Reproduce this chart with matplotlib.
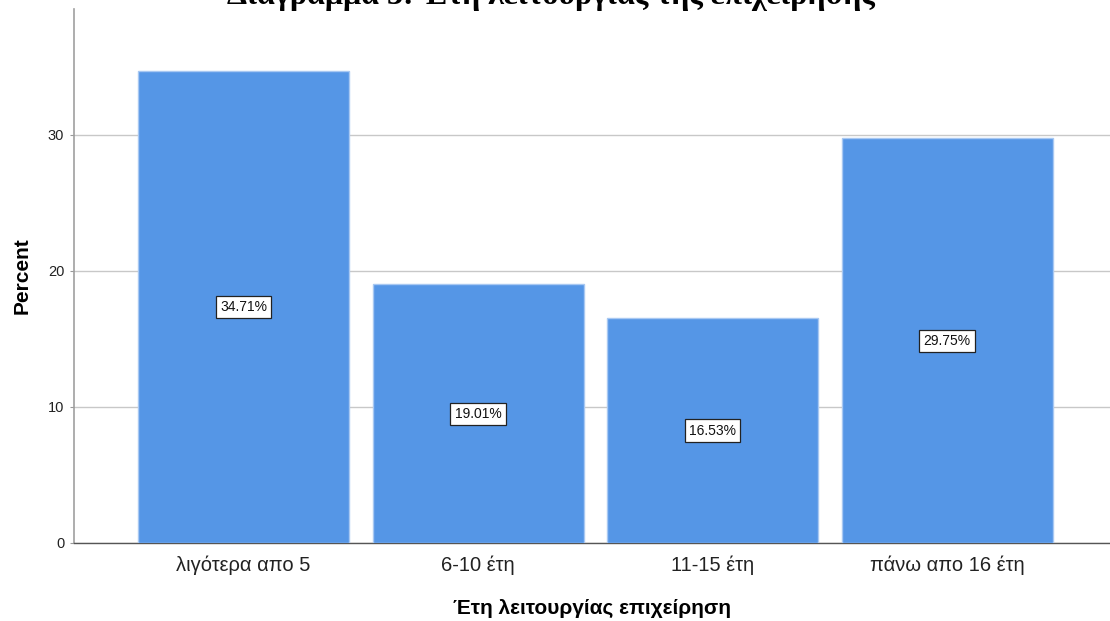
import matplotlib
matplotlib.use("Agg")
import matplotlib.pyplot as plt
import numpy as np

categories = ["λιγότερα απο 5", "6-10 έτη", "11-15 έτη", "πάνω απο 16 έτη"]
percents = [34.71, 19.01, 16.53, 29.75]
yticks = [0, 10, 20, 30]

title = "Διάγραμμα 3: Έτη λειτουργίας της επιχείρησης"
xlabel = "Έτη λειτουργίας επιχείρηση"
ylabel = "Percent"

bar_color = "#5596E6"
edge_color = "#A8C8F2"

plt.rcParams["font.family"] = ["Liberation Sans", "DejaVu Sans"]

fig = plt.figure(figsize=(11.10, 6.21), dpi=100)
W, H = 1110, 621
left_px, right_px, top_px, bottom_px = 74, 1110, 9, 543
ax = fig.add_axes([left_px / W, 1 - bottom_px / H,
                   (right_px - left_px) / W, (bottom_px - top_px) / H])

x = np.arange(len(categories))
ax.bar(x, percents, width=0.9, color=bar_color, edgecolor=edge_color,
       linewidth=1.0, zorder=3)

ax.set_xlim(-0.723, 3.695)
ax.set_ylim(0, (bottom_px - top_px) / 13.6)
ax.set_yticks(yticks)
ax.set_yticklabels([str(t) for t in yticks], fontsize=10.5, color="#222222")
ax.set_xticks(x)
ax.set_xticklabels(categories, fontsize=14.5, color="#222222")
ax.tick_params(axis="x", length=0, pad=9)
ax.tick_params(axis="y", length=3, width=0.8, color="#999999", pad=4)

ax.grid(axis="y", color="#C8C8C8", linewidth=1.0, zorder=0)
ax.set_axisbelow(True)

for side in ("top", "right"):
    ax.spines[side].set_visible(False)
ax.spines["left"].set_color("#A0A0A0")
ax.spines["left"].set_linewidth(1.2)
ax.spines["bottom"].set_color("#555555")
ax.spines["bottom"].set_linewidth(1.0)

for xi, v in zip(x, percents):
    ax.text(xi, v / 2, f"{v:.2f}%", ha="center", va="center", fontsize=10,
            color="#111111", zorder=5,
            bbox=dict(boxstyle="square,pad=0.3", facecolor="white",
                      edgecolor="#222222", linewidth=0.9))

ax.set_xlabel(xlabel, fontsize=15, fontweight="bold", labelpad=17)
ax.set_ylabel(ylabel, fontsize=15, fontweight="bold", labelpad=12)

fig.text(551 / W, 1 - 4 / H, title, ha="center", va="baseline",
         fontsize=23, fontweight="bold",
         family=["Liberation Serif", "DejaVu Serif"])

fig.savefig("out.png", dpi=100, facecolor="white")
